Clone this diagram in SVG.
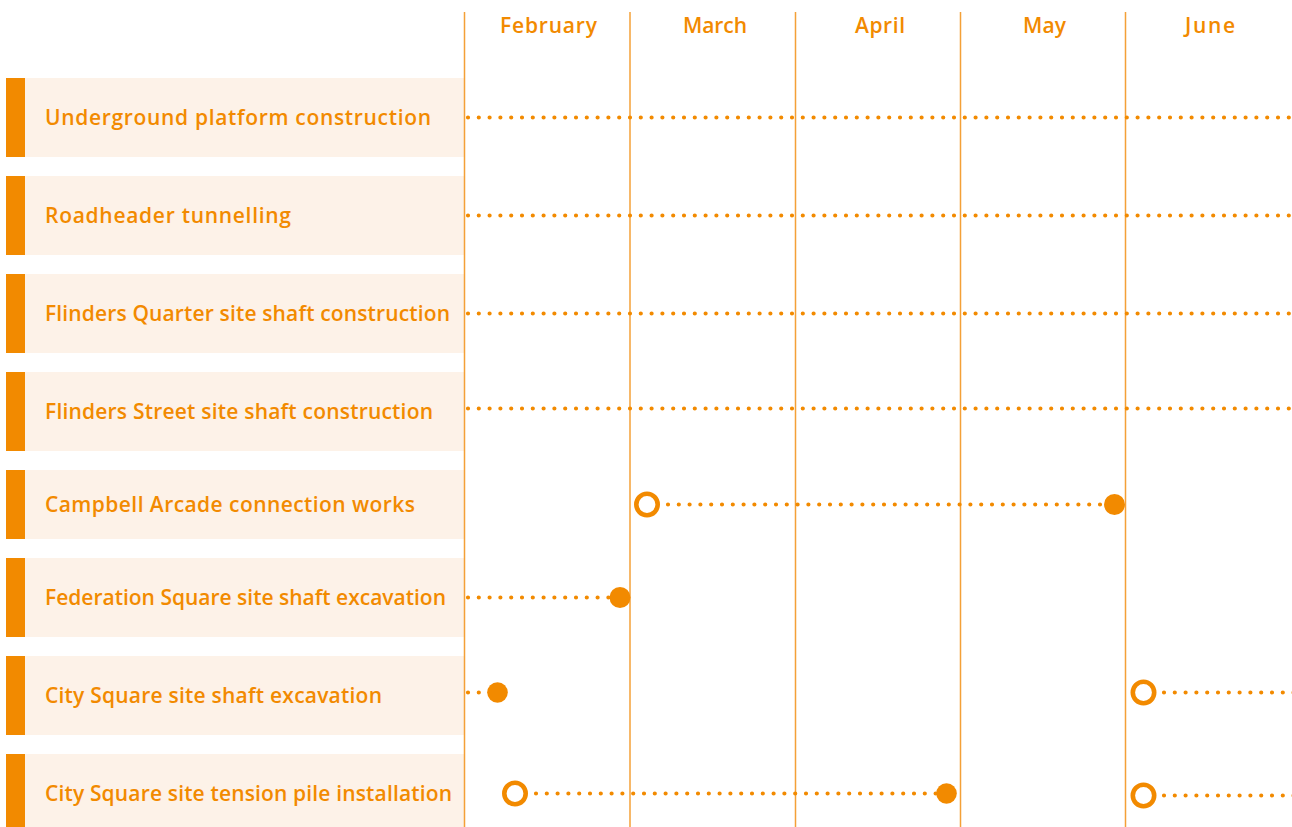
<svg xmlns="http://www.w3.org/2000/svg" width="1292" height="827" viewBox="0 0 1292 827">
<style>
.bg{fill:#fdf2e8}
.bar{fill:#f28a00}
.lbl{font-family:"Open Sans","Liberation Sans",sans-serif;font-weight:600;font-size:21px;fill:#f28a00}
.mon{font-family:"Open Sans","Liberation Sans",sans-serif;font-weight:600;font-size:21px;fill:#f28a00}
.grid{stroke:#f4a037;stroke-width:1.5}
.dot{stroke:#f28a00;stroke-width:4.2;stroke-linecap:round;stroke-dasharray:0 10.8;fill:none}
.open{fill:#fff;stroke:#f28a00;stroke-width:4.6}
.fill{fill:#f28a00}
</style>
<rect width="1292" height="827" fill="#fff"/>
<g id="rows">
<g id="row1"><rect class="bg" x="6" y="78" width="458" height="79"/><rect class="bar" x="6" y="78" width="19" height="79"/><text class="lbl" x="45" y="125" textLength="386" lengthAdjust="spacing">Underground platform construction</text></g>
<g id="row2"><rect class="bg" x="6" y="176" width="458" height="79"/><rect class="bar" x="6" y="176" width="19" height="79"/><text class="lbl" x="45" y="223" textLength="246" lengthAdjust="spacing">Roadheader tunnelling</text></g>
<g id="row3"><rect class="bg" x="6" y="274" width="458" height="79"/><rect class="bar" x="6" y="274" width="19" height="79"/><text class="lbl" x="45" y="321" textLength="405" lengthAdjust="spacing">Flinders Quarter site shaft construction</text></g>
<g id="row4"><rect class="bg" x="6" y="372" width="458" height="79"/><rect class="bar" x="6" y="372" width="19" height="79"/><text class="lbl" x="45" y="419" textLength="388" lengthAdjust="spacing">Flinders Street site shaft construction</text></g>
<g id="row5"><rect class="bg" x="6" y="470" width="458" height="69"/><rect class="bar" x="6" y="470" width="19" height="69"/><text class="lbl" x="45" y="512" textLength="370" lengthAdjust="spacing">Campbell Arcade connection works</text></g>
<g id="row6"><rect class="bg" x="6" y="558" width="458" height="79"/><rect class="bar" x="6" y="558" width="19" height="79"/><text class="lbl" x="45" y="605" textLength="401" lengthAdjust="spacing">Federation Square site shaft excavation</text></g>
<g id="row7"><rect class="bg" x="6" y="656" width="458" height="79"/><rect class="bar" x="6" y="656" width="19" height="79"/><text class="lbl" x="45" y="703" textLength="337" lengthAdjust="spacing">City Square site shaft excavation</text></g>
<g id="row8"><rect class="bg" x="6" y="754" width="458" height="79"/><rect class="bar" x="6" y="754" width="19" height="79"/><text class="lbl" x="45" y="801" textLength="407" lengthAdjust="spacing">City Square site tension pile installation</text></g>
</g>
<g id="months">
<text class="mon" x="500" y="33" textLength="97" lengthAdjust="spacing">February</text>
<text class="mon" x="683" y="33" textLength="64" lengthAdjust="spacing">March</text>
<text class="mon" x="855" y="33" textLength="50" lengthAdjust="spacing">April</text>
<text class="mon" x="1023" y="33" textLength="43" lengthAdjust="spacing">May</text>
<text class="mon" x="1185" y="33" textLength="50" lengthAdjust="spacing">June</text>
</g>
<g id="grid">
<line class="grid" x1="464.5" y1="12" x2="464.5" y2="827"/>
<line class="grid" x1="630" y1="12" x2="630" y2="827"/>
<line class="grid" x1="795.5" y1="12" x2="795.5" y2="827"/>
<line class="grid" x1="960.5" y1="12" x2="960.5" y2="827"/>
<line class="grid" x1="1125.5" y1="12" x2="1125.5" y2="827"/>
</g>
<g id="connectors">
<line class="dot" x1="468" y1="117.5" x2="1296" y2="117.5"/>
<line class="dot" x1="468" y1="215.5" x2="1296" y2="215.5"/>
<line class="dot" x1="468" y1="313.5" x2="1296" y2="313.5"/>
<line class="dot" x1="468" y1="408.5" x2="1296" y2="408.5"/>
<line class="dot" x1="668" y1="504.5" x2="1105" y2="504.5"/>
<line class="dot" x1="468" y1="597.5" x2="612" y2="597.5"/>
<line class="dot" x1="468" y1="692.5" x2="490" y2="692.5"/>
<line class="dot" x1="1164" y1="692.5" x2="1296" y2="692.5"/>
<line class="dot" x1="536" y1="793.5" x2="940" y2="793.5"/>
<line class="dot" x1="1164" y1="795.5" x2="1296" y2="795.5"/>
</g>
<g id="markers">
<circle class="open" cx="647" cy="504.5" r="10.7"/>
<circle class="fill" cx="1114.5" cy="504.5" r="10.5"/>
<circle class="fill" cx="620" cy="597.5" r="10.5"/>
<circle class="fill" cx="497.5" cy="692.5" r="10.3"/>
<circle class="open" cx="1143.5" cy="692.5" r="10.7"/>
<circle class="open" cx="515" cy="793.5" r="10.7"/>
<circle class="fill" cx="946.5" cy="793.5" r="10.3"/>
<circle class="open" cx="1143.5" cy="795.5" r="10.7"/>
</g>
</svg>
